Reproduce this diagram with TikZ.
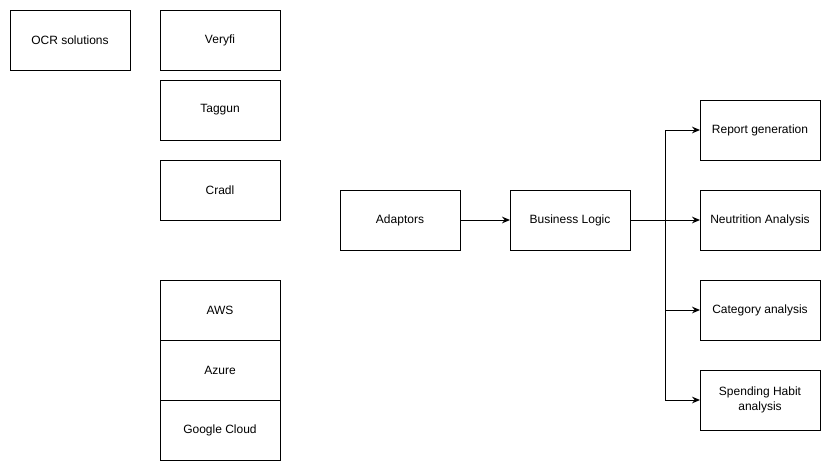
\documentclass[tikz,border=0pt]{standalone}
\usepackage{fontspec}
\setmainfont{Liberation Sans}
\usetikzlibrary{arrows.meta,positioning}

\begin{document}
\begin{tikzpicture}[x=0.75pt,y=-0.75pt,>={Stealth[length=6pt,width=5pt,inset=2pt]},line width=0.75pt,node distance=0pt,
  every node/.style={font=\fontsize{9}{11}\selectfont},
  box/.style={draw,rectangle,minimum width=90pt,minimum height=45pt,align=center,outer sep=0pt}]

\useasboundingbox (0,0) rectangle (831,471);

\node[box]   (ocr)      at (70,40)  	{OCR solutions};
 \node[box] 	  (veryfi)  at (220,40)  	{Veryfi};
	\node[box]   (taggun)  at (220,110)      	{Taggun};
	\node[box]   (cradl)   at (220,190)      	{Cradl};
	\node[box]   (aws)     at (220,310)      	{AWS};
	\node[box]   (azure)   [below=of aws]   	{Azure};
	\node[box]   (gcloud)  [below=of azure]  	{Google Cloud};

	\node[box]   (adapt)   at (400,220)      	{Adaptors};
	\node[box]   (logic)   at (570,220)      	{Business Logic};

	\node[box]   (report)  at (760,130)      	{Report generation};
	\node[box]   (nutri)   at (760,220)      	{Neutrition Analysis};
	\node[box]   (categ)   at (760,310)      	{Category analysis};
	\node[box]   (spend)   at (760,400)      	{Spending Habit\\analysis};

	\coordinate (split) at (665,220);

	\draw[->] (adapt) -- (logic);
	\draw[->] (logic) -- (nutri);
	\draw[->] (split) |- (report);
	\draw[->] (split) |- (categ);
	\draw[->] (split) |- (spend);

\end{tikzpicture}
\end{document}
